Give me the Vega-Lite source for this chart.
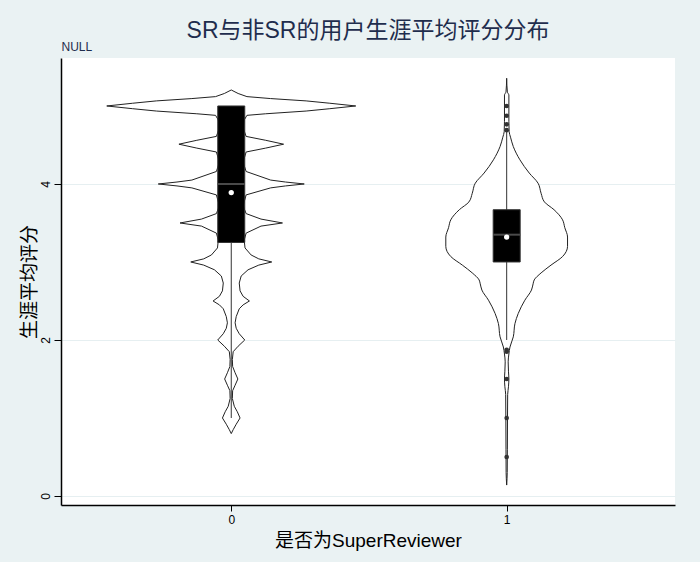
{
  "$schema": "https://vega.github.io/schema/vega-lite/v6.json",
  "autosize": {"type": "none"},
  "width": 614,
  "height": 447,
  "padding": {"left": 61, "top": 58, "right": 25, "bottom": 57},
  "background": "#eaf2f3",
  "title": {
    "text": "SR与非SR的用户生涯平均评分分布",
    "font": "Liberation Sans, Noto Sans CJK SC",
    "fontSize": 23,
    "fontWeight": "normal",
    "color": "#1f2d4d",
    "anchor": "middle",
    "offset": -3
  },
  "datasets": {
    "violin": [
      {"g": 0, "v": 0.80, "w": 0},
      {"g": 0, "v": 0.85, "w": 0.007},
      {"g": 0, "v": 0.92, "w": 0.018},
      {"g": 0, "v": 1.00, "w": 0.032},
      {"g": 0, "v": 1.08, "w": 0.022},
      {"g": 0, "v": 1.15, "w": 0.011},
      {"g": 0, "v": 1.25, "w": 0.004},
      {"g": 0, "v": 1.35, "w": 0.005},
      {"g": 0, "v": 1.42, "w": 0.014},
      {"g": 0, "v": 1.50, "w": 0.024},
      {"g": 0, "v": 1.58, "w": 0.014},
      {"g": 0, "v": 1.66, "w": 0.005},
      {"g": 0, "v": 1.75, "w": 0.004},
      {"g": 0, "v": 1.85, "w": 0.007},
      {"g": 0, "v": 1.92, "w": 0.025},
      {"g": 0, "v": 2.00, "w": 0.049},
      {"g": 0, "v": 2.08, "w": 0.029},
      {"g": 0, "v": 2.15, "w": 0.018},
      {"g": 0, "v": 2.22, "w": 0.014},
      {"g": 0, "v": 2.30, "w": 0.018},
      {"g": 0, "v": 2.40, "w": 0.029},
      {"g": 0, "v": 2.45, "w": 0.043},
      {"g": 0, "v": 2.50, "w": 0.066},
      {"g": 0, "v": 2.56, "w": 0.043},
      {"g": 0, "v": 2.63, "w": 0.032},
      {"g": 0, "v": 2.73, "w": 0.029},
      {"g": 0, "v": 2.82, "w": 0.036},
      {"g": 0, "v": 2.90, "w": 0.061},
      {"g": 0, "v": 2.96, "w": 0.100},
      {"g": 0, "v": 3.00, "w": 0.147},
      {"g": 0, "v": 3.04, "w": 0.100},
      {"g": 0, "v": 3.09, "w": 0.072},
      {"g": 0, "v": 3.18, "w": 0.050},
      {"g": 0, "v": 3.28, "w": 0.047},
      {"g": 0, "v": 3.37, "w": 0.054},
      {"g": 0, "v": 3.46, "w": 0.108},
      {"g": 0, "v": 3.50, "w": 0.186},
      {"g": 0, "v": 3.55, "w": 0.108},
      {"g": 0, "v": 3.62, "w": 0.054},
      {"g": 0, "v": 3.72, "w": 0.043},
      {"g": 0, "v": 3.86, "w": 0.054},
      {"g": 0, "v": 3.95, "w": 0.143},
      {"g": 0, "v": 3.975, "w": 0.197},
      {"g": 0, "v": 4.00, "w": 0.265},
      {"g": 0, "v": 4.025, "w": 0.197},
      {"g": 0, "v": 4.05, "w": 0.143},
      {"g": 0, "v": 4.16, "w": 0.054},
      {"g": 0, "v": 4.28, "w": 0.043},
      {"g": 0, "v": 4.41, "w": 0.054},
      {"g": 0, "v": 4.46, "w": 0.125},
      {"g": 0, "v": 4.51, "w": 0.190},
      {"g": 0, "v": 4.56, "w": 0.125},
      {"g": 0, "v": 4.61, "w": 0.054},
      {"g": 0, "v": 4.72, "w": 0.043},
      {"g": 0, "v": 4.82, "w": 0.047},
      {"g": 0, "v": 4.88, "w": 0.057},
      {"g": 0, "v": 4.90, "w": 0.125},
      {"g": 0, "v": 4.935, "w": 0.272},
      {"g": 0, "v": 4.965, "w": 0.358},
      {"g": 0, "v": 5.00, "w": 0.452},
      {"g": 0, "v": 5.035, "w": 0.358},
      {"g": 0, "v": 5.065, "w": 0.272},
      {"g": 0, "v": 5.095, "w": 0.143},
      {"g": 0, "v": 5.12, "w": 0.057},
      {"g": 0, "v": 5.16, "w": 0.025},
      {"g": 0, "v": 5.205, "w": 0},
      {"g": 1, "v": 0.14, "w": 0},
      {"g": 1, "v": 0.30, "w": 0.002},
      {"g": 1, "v": 0.60, "w": 0.0025},
      {"g": 1, "v": 1.00, "w": 0.003},
      {"g": 1, "v": 1.30, "w": 0.0036},
      {"g": 1, "v": 1.40, "w": 0.0065},
      {"g": 1, "v": 1.50, "w": 0.008},
      {"g": 1, "v": 1.60, "w": 0.0065},
      {"g": 1, "v": 1.72, "w": 0.0054},
      {"g": 1, "v": 1.82, "w": 0.008},
      {"g": 1, "v": 1.91, "w": 0.012},
      {"g": 1, "v": 2.04, "w": 0.024},
      {"g": 1, "v": 2.21, "w": 0.030},
      {"g": 1, "v": 2.34, "w": 0.042},
      {"g": 1, "v": 2.51, "w": 0.066},
      {"g": 1, "v": 2.64, "w": 0.090},
      {"g": 1, "v": 2.72, "w": 0.096},
      {"g": 1, "v": 2.77, "w": 0.100},
      {"g": 1, "v": 2.86, "w": 0.125},
      {"g": 1, "v": 2.96, "w": 0.161},
      {"g": 1, "v": 3.07, "w": 0.203},
      {"g": 1, "v": 3.20, "w": 0.221},
      {"g": 1, "v": 3.32, "w": 0.221},
      {"g": 1, "v": 3.44, "w": 0.211},
      {"g": 1, "v": 3.54, "w": 0.203},
      {"g": 1, "v": 3.67, "w": 0.172},
      {"g": 1, "v": 3.77, "w": 0.137},
      {"g": 1, "v": 3.88, "w": 0.125},
      {"g": 1, "v": 4.01, "w": 0.114},
      {"g": 1, "v": 4.14, "w": 0.082},
      {"g": 1, "v": 4.31, "w": 0.048},
      {"g": 1, "v": 4.48, "w": 0.024},
      {"g": 1, "v": 4.60, "w": 0.014},
      {"g": 1, "v": 4.67, "w": 0.009},
      {"g": 1, "v": 4.80, "w": 0.008},
      {"g": 1, "v": 5.00, "w": 0.008},
      {"g": 1, "v": 5.14, "w": 0.008},
      {"g": 1, "v": 5.18, "w": 0.0025},
      {"g": 1, "v": 5.355, "w": 0}
    ],
    "box": [
      {"g": 0, "q1": 3.25, "q3": 5.0, "med": 4.0, "mean": 3.89, "lo": 1.0, "hi": 5.0},
      {"g": 1, "q1": 3.0, "q3": 3.67, "med": 3.35, "mean": 3.32, "lo": 2.0, "hi": 4.67}
    ],
    "outliers": [
      {"g": 1, "v": 5.0},
      {"g": 1, "v": 4.875},
      {"g": 1, "v": 4.765},
      {"g": 1, "v": 4.69},
      {"g": 1, "v": 1.875},
      {"g": 1, "v": 1.85},
      {"g": 1, "v": 1.5},
      {"g": 1, "v": 1.0},
      {"g": 1, "v": 0.5}
    ]
  },
  "resolve": {"axis": {"x": "independent"}},
  "layer": [
    {
      "data": {"name": "violin"},
      "transform": [
        {"filter": "datum.g == 0"},
        {"calculate": "datum.g - datum.w", "as": "left"},
        {"calculate": "datum.g + datum.w", "as": "right"}
      ],
      "mark": {"type": "area", "orient": "horizontal", "interpolate": "linear", "fill": "white", "stroke": "#222222", "strokeWidth": 1},
      "encoding": {
        "y": {"field": "v", "type": "quantitative", "title": "生涯平均评分", "scale": {"domain": [-0.1154, 5.615], "nice": false, "zero": false}, "axis": {"values": [0, 2, 4], "format": "d"}},
        "x": {"field": "left", "type": "quantitative", "title": "是否为SuperReviewer", "scale": {"domain": [-0.6, 1.593], "nice": false, "zero": false},
              "axis": {"orient": "bottom", "values": [0, 1], "format": "d"}},
        "x2": {"field": "right"}
      }
    },
    {
      "data": {"name": "violin"},
      "transform": [
        {"filter": "datum.g == 1"},
        {"calculate": "datum.g - datum.w", "as": "left"},
        {"calculate": "datum.g + datum.w", "as": "right"}
      ],
      "mark": {"type": "area", "orient": "horizontal", "interpolate": "monotone", "fill": "white", "stroke": "#222222", "strokeWidth": 1},
      "encoding": {
        "y": {"field": "v", "type": "quantitative", "title": "生涯平均评分", "scale": {"domain": [-0.1154, 5.615], "nice": false, "zero": false}},
        "x": {"field": "left", "type": "quantitative", "scale": {"domain": [-0.6, 1.593], "nice": false, "zero": false}, "axis": null},
        "x2": {"field": "right"}
      }
    },
    {
      "data": {"name": "box"},
      "mark": {"type": "rule", "color": "#333333", "strokeWidth": 1},
      "encoding": {
        "y": {"field": "lo", "type": "quantitative", "title": "生涯平均评分", "scale": {"domain": [-0.1154, 5.615], "nice": false, "zero": false}},
        "y2": {"field": "hi"},
        "x": {"field": "g", "type": "quantitative", "title": "NULL", "scale": {"domain": [-0.6, 1.593], "nice": false, "zero": false},
              "axis": {"orient": "top", "labels": false, "ticks": false, "domain": false, "grid": false, "titleAnchor": "start", "titleAlign": "left", "titleFontSize": 12, "titleColor": "#1f2d4d", "titleFont": "Liberation Sans", "titlePadding": 5}}
      }
    },
    {
      "data": {"name": "box"},
      "mark": {"type": "bar", "size": 27, "fill": "black", "stroke": "#333333", "strokeWidth": 1},
      "encoding": {
        "y": {"field": "q1", "type": "quantitative", "title": "生涯平均评分", "scale": {"domain": [-0.1154, 5.615], "nice": false, "zero": false}},
        "y2": {"field": "q3"},
        "x": {"field": "g", "type": "quantitative", "scale": {"domain": [-0.6, 1.593], "nice": false, "zero": false}, "axis": null}
      }
    },
    {
      "data": {"name": "box"},
      "mark": {"type": "tick", "orient": "horizontal", "size": 27, "thickness": 2, "color": "#4a4a4a", "opacity": 1},
      "encoding": {
        "y": {"field": "med", "type": "quantitative", "title": "生涯平均评分", "scale": {"domain": [-0.1154, 5.615], "nice": false, "zero": false}},
        "x": {"field": "g", "type": "quantitative", "scale": {"domain": [-0.6, 1.593], "nice": false, "zero": false}, "axis": null}
      }
    },
    {
      "data": {"name": "box"},
      "mark": {"type": "point", "shape": "circle", "filled": true, "size": 28, "color": "white", "opacity": 1},
      "encoding": {
        "y": {"field": "mean", "type": "quantitative", "title": "生涯平均评分", "scale": {"domain": [-0.1154, 5.615], "nice": false, "zero": false}},
        "x": {"field": "g", "type": "quantitative", "scale": {"domain": [-0.6, 1.593], "nice": false, "zero": false}, "axis": null}
      }
    },
    {
      "data": {"name": "outliers"},
      "mark": {"type": "point", "shape": "circle", "filled": true, "size": 22, "color": "#333333", "opacity": 1},
      "encoding": {
        "y": {"field": "v", "type": "quantitative", "title": "生涯平均评分", "scale": {"domain": [-0.1154, 5.615], "nice": false, "zero": false}},
        "x": {"field": "g", "type": "quantitative", "scale": {"domain": [-0.6, 1.593], "nice": false, "zero": false}, "axis": null}
      }
    }
  ],
  "config": {
    "view": {"fill": "white", "stroke": null},
    "axis": {
      "domainColor": "#000000",
      "domainWidth": 1.5,
      "tickColor": "#000000",
      "labelColor": "#000000",
      "labelFont": "Liberation Sans",
      "labelFontSize": 12,
      "titleFont": "Liberation Sans, Noto Sans CJK SC",
      "titleFontWeight": "normal",
      "titleColor": "#000000",
      "titleFontSize": 19,
      "grid": false
    },
    "axisX": {"tickSize": 6, "labelPadding": 3, "titlePadding": 6},
    "axisY": {"grid": true, "gridColor": "#e6eff1", "gridWidth": 1, "tickSize": 7, "labelAngle": -90, "labelPadding": 2, "titlePadding": 0}
  }
}
